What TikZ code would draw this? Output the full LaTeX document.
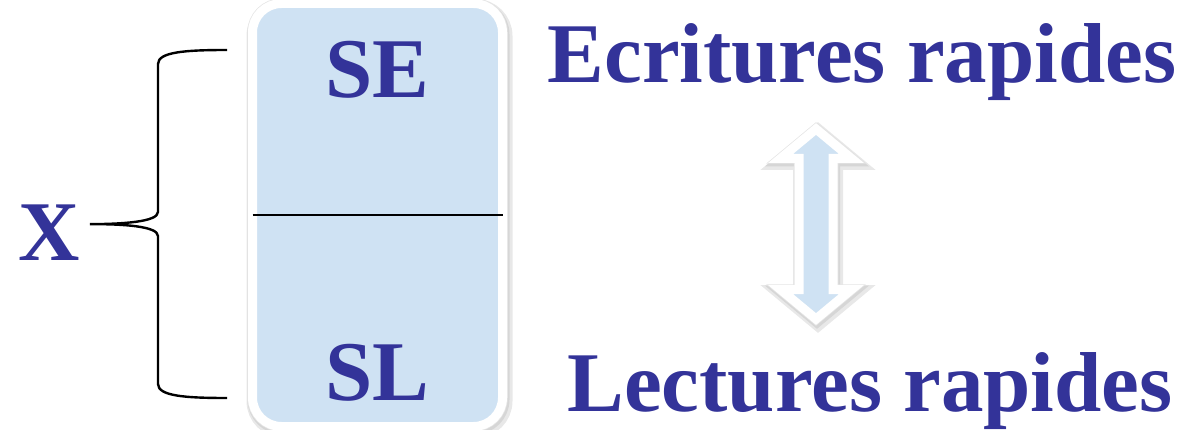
\documentclass[tikz,border=0pt]{standalone}
\usepackage{fontspec}
\setmainfont{Liberation Serif}
\usepackage{tikz}
\usetikzlibrary{positioning, calc}
\definecolor{mynavy}{RGB}{51,51,153}
\definecolor{hdrblue}{RGB}{207,226,243}
\tikzset{
  bigtext/.style={text=mynavy, font=\fontsize{85}{90}\selectfont\bfseries,
    inner sep=0pt, anchor=base},
  softrim/.style={
    preaction={draw=black!9, line width=16pt,
      transform canvas={shift={(2pt,-3.5pt)}}},
    preaction={draw=black!16, line width=12pt,
      transform canvas={shift={(1pt,-2pt)}}},
    preaction={draw=black!10, line width=10.5pt}},
  panel/.style={rectangle, softrim, draw=white, fill=hdrblue, line width=9pt,
    rounded corners=29pt, minimum width=250pt, minimum height=423pt,
    outer sep=0pt, inner sep=0pt},
  dblarrow/.style={softrim, draw=white, fill=hdrblue, line width=9pt},
  divider/.style={line width=1.8pt, color=black},
  bracket/.style={line width=2.4pt, color=black}
}

\begin{document}
\begin{tikzpicture}[x=1pt, y=-1pt]
  \useasboundingbox (0,0) rectangle (1198,430);

  % memory block
  \node[panel] (panel) at (377.5,215) {};
  \draw[divider] (panel.west) -- (panel.east);
  \node[bigtext] (se) at (377.5,98) {SE};
  \node[bigtext] (sl) at (377.5,400) {SL};

  % left side
  \node[bigtext] (x) at (49,260) {X};
  \coordinate (bracetop) at (227,50);
  \coordinate (bracebot) at (227,398);
  \coordinate (bracetip) at ($(x.east)+(10,-8)$);
  \draw[bracket] (bracetop) .. controls (185,50) and (158,52) .. (158,64)
    -- (158,212) .. controls (158,222) and (122,224) .. (bracetip)
    .. controls (122,224) and (158,226) .. (158,236)
    -- (158,384) .. controls (158,396) and (185,398) .. (bracebot);

  % right side
  \node[bigtext] (ecr) at (862,83) {Ecritures rapides};
  \node[bigtext] (lec) at (870,411) {Lectures rapides};
  \draw[dblarrow] (816,129) -- (851.5,158.5) -- (833,158.5) -- (833,289.5)
    -- (851.5,289.5) -- (816,319) -- (780.5,289.5) -- (799,289.5)
    -- (799,158.5) -- (780.5,158.5) -- cycle;
\end{tikzpicture}
\end{document}
